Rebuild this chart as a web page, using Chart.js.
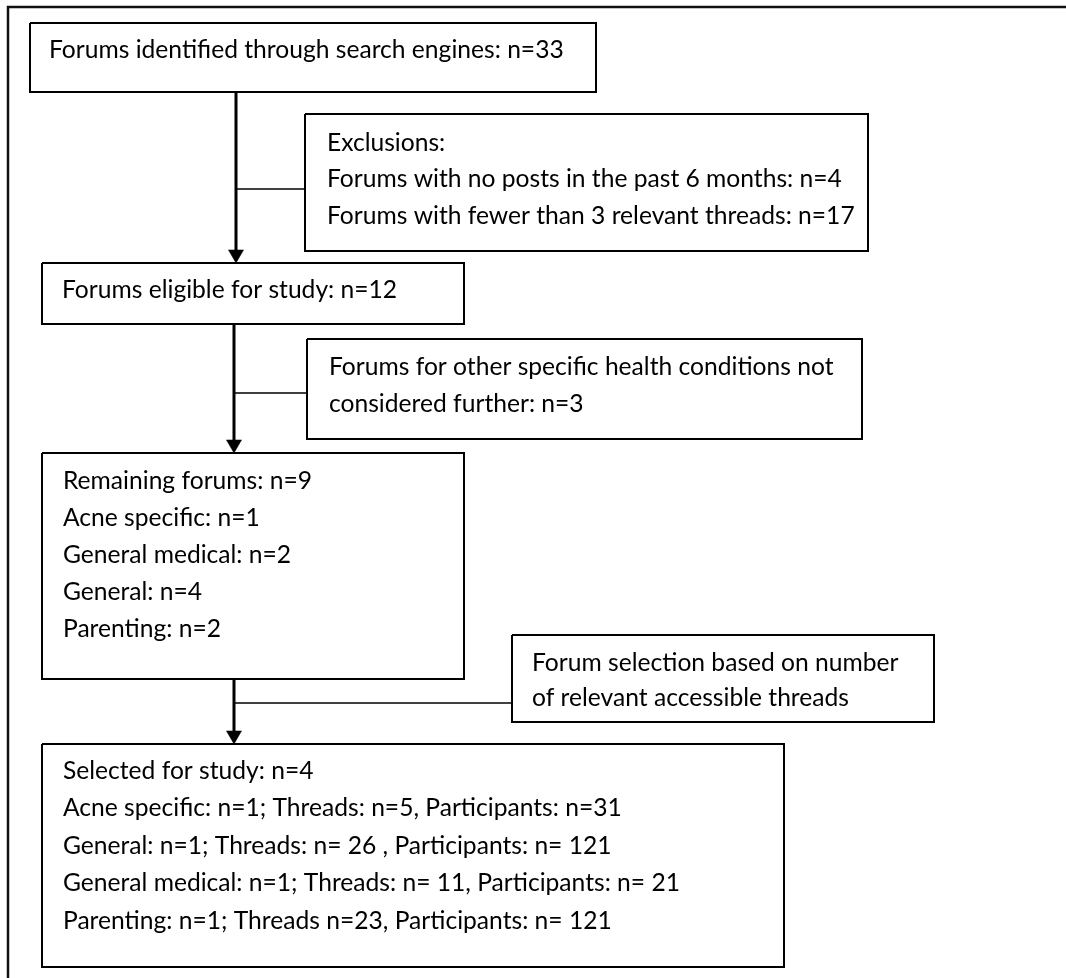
<!DOCTYPE html>
<html>
<head>
<meta charset="utf-8">
<script src="https://cdn.jsdelivr.net/npm/chart.js@4.4.1/dist/chart.umd.min.js"></script>
<style>
  html, body { margin: 0; padding: 0; background: #fff; }
  #wrap { width: 1066px; height: 978px; }
</style>
</head>
<body>
<div id="wrap"><canvas id="flowChart"></canvas></div>
<script>
// Text of each stage in the flow (top to bottom)
const identifiedText = ["Forums identified through search engines: n=33"];
const exclusionText = [
    "Exclusions:",
    "Forums with no posts in the past 6 months: n=4",
    "Forums with fewer than 3 relevant threads: n=17"
];
const eligibleText = ["Forums eligible for study: n=12"];
const otherConditionText = [
    "Forums for other specific health conditions not",
    "considered further: n=3"
];
const remainingText = [
    "Remaining forums: n=9",
    "Acne specific: n=1",
    "General medical: n=2",
    "General: n=4",
    "Parenting: n=2"
];
const selectionText = [
    "Forum selection based on number",
    "of relevant accessible threads"
];
const selectedText = [
    "Selected for study: n=4",
    "Acne specific: n=1; Threads: n=5, Participants: n=31",
    "General: n=1; Threads: n= 26 , Participants: n= 121",
    "General medical: n=1; Threads: n= 11, Participants: n= 21",
    "Parenting: n=1; Threads n=23, Participants: n= 121"
];

// Layout of boxes in chart units (1 unit = 1px on the 1066x978 canvas)
const boxes = [
    { lines: identifiedText,     l: 30,  t: 23,  r: 596, b: 92,  tx: 49,  ty: 50,  gap: 0 },
    { lines: exclusionText,      l: 305, t: 114, r: 868, b: 251, tx: 327, ty: 143, gap: 36.5 },
    { lines: eligibleText,       l: 42,  t: 263, r: 464, b: 324, tx: 62,  ty: 290, gap: 0 },
    { lines: otherConditionText, l: 307, t: 339, r: 862, b: 439, tx: 329, ty: 367, gap: 37 },
    { lines: remainingText,      l: 42,  t: 453, r: 464, b: 679, tx: 63,  ty: 481, gap: 37 },
    { lines: selectionText,      l: 512, t: 635, r: 934, b: 722, tx: 532, ty: 663, gap: 35.5 },
    { lines: selectedText,       l: 42,  t: 744, r: 784, b: 967, tx: 63,  ty: 771, gap: 37.5 }
];

// main downward arrows: x, from, to (tip)
const arrows = [
    { x: 236, y0: 92,  y1: 263 },
    { x: 234, y0: 324, y1: 453 },
    { x: 234, y0: 679, y1: 744 }
];
// side branches to the exclusion boxes
const branches = [
    { y: 189, x0: 236, x1: 305 },
    { y: 393, x0: 234, x1: 307 },
    { y: 703, x0: 234, x1: 512 }
];

const headR = 8.7;

// pick font size so a reference line matches the original width
const measureCtx = document.createElement("canvas").getContext("2d");
measureCtx.font = "100px Lato";
const fontPx = 100 * 249 / measureCtx.measureText("Remaining forums: n=9").width;

const datasets = [];

// outer frame (top and left edges only)
datasets.push({
    type: "line",
    data: [{ x: 1066, y: 7 }, { x: 8, y: 7 }, { x: 8, y: 978 }],
    borderColor: "#111",
    borderWidth: 2.5,
    pointRadius: 0,
    fill: false
});

boxes.forEach(bx => {
    datasets.push({
        type: "line",
        data: [
            { x: bx.l, y: bx.t }, { x: bx.r, y: bx.t },
            { x: bx.r, y: bx.b }, { x: bx.l, y: bx.b },
            { x: bx.l, y: bx.t }
        ],
        borderColor: "#000",
        borderWidth: 2,
        borderJoinStyle: "miter",
        pointRadius: 0,
        fill: false
    });
});

arrows.forEach(a => {
    datasets.push({
        type: "line",
        data: [{ x: a.x, y: a.y0 }, { x: a.x, y: a.y1 - 6 }],
        borderColor: "#000",
        borderWidth: 3,
        pointRadius: 0,
        fill: false
    });
});

branches.forEach(br => {
    datasets.push({
        type: "line",
        data: [{ x: br.x0, y: br.y }, { x: br.x1, y: br.y }],
        borderColor: "#000",
        borderWidth: 1.3,
        pointRadius: 0,
        fill: false
    });
});

// arrow heads
datasets.push({
    type: "scatter",
    data: arrows.map(a => ({ x: a.x, y: a.y1 - headR })),
    pointStyle: "triangle",
    rotation: 180,
    pointRadius: headR,
    backgroundColor: "#000",
    borderColor: "#000",
    borderWidth: 0.5
});

const boxTextPlugin = {
    id: "boxText",
    afterDatasetsDraw(chart) {
        const { ctx, scales } = chart;
        ctx.save();
        ctx.fillStyle = "#000";
        ctx.font = fontPx.toFixed(2) + "px Lato";
        ctx.textBaseline = "middle";
        ctx.textAlign = "left";
        boxes.forEach(bx => {
            bx.lines.forEach((line, i) => {
                const px = scales.x.getPixelForValue(bx.tx);
                const py = scales.y.getPixelForValue(bx.ty + i * bx.gap);
                ctx.fillText(line, px, py);
            });
        });
        ctx.restore();
    }
};

new Chart(document.getElementById("flowChart"), {
    type: "line",
    data: { datasets: datasets },
    options: {
        responsive: true,
        maintainAspectRatio: false,
        animation: false,
        layout: { padding: 0, autoPadding: false },
        parsing: false,
        clip: false,
        plugins: {
            legend: { display: false },
            tooltip: { enabled: false }
        },
        scales: {
            x: { type: "linear", min: 0, max: 1066, display: false },
            y: { type: "linear", min: 0, max: 978, reverse: true, display: false }
        }
    },
    plugins: [boxTextPlugin]
});
</script>
</body>
</html>
